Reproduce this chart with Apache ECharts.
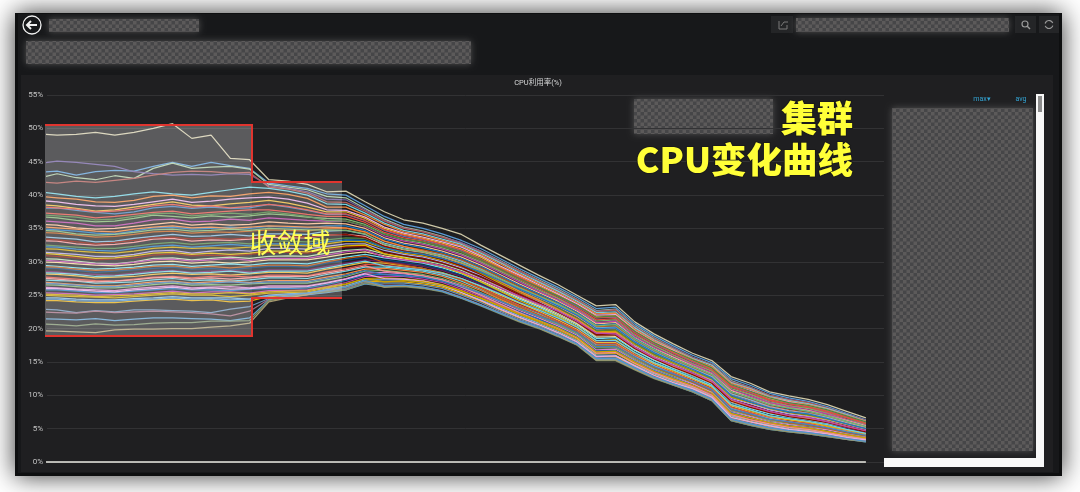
<!DOCTYPE html>
<html><head><meta charset="utf-8">
<script src="https://cdn.jsdelivr.net/npm/echarts@6/dist/echarts.min.js"></script>
<style>html,body{margin:0;background:#fff}#c{width:1080px;height:492px;filter:blur(0.4px)}</style></head>
<body><div id="c"></div>
<script>
const yTicks=[0,5,10,15,20,25,30,35,40,45,50,55];
const times=[-1,0,1,2,3,4,5,6,7,8,9,10,11,12,13,14,15,16,17,18,19,20,21,22,23,24,25,26,27,28,29,30,31,32,33,34,35,36,37,38,39,40,41,42];
const zeroLine=[0,0,0,0,0,0,0,0,0,0,0,0,0,0,0,0,0,0,0,0,0,0,0,0,0,0,0,0,0,0,0,0,0,0,0,0,0,0,0,0,0,0,0,0];
// values in tenths of a percent
const s01=[492,490,491,494,490,494,500,507,485,490,455,453,423,421,416,405,406,390,375,363,358,350,341,325,310,295,280,266,250,234,236,210,192,177,163,152,128,118,105,99,94,86,76,66];
const s02=[434,436,430,435,437,436,443,449,443,449,444,440,418,414,410,402,400,384,368,356,350,342,332,320,305,290,276,262,247,230,232,207,189,174,160,149,125,115,103,96,91,83,73,63];
const s03=[425,432,426,423,429,425,440,448,440,442,443,439,416,412,408,398,396,380,364,352,346,338,328,316,302,287,273,259,244,227,229,204,186,171,157,146,122,112,100,93,88,80,71,61];
const s04=[447,451,449,446,443,435,432,430,431,430,432,431,414,410,405,394,393,378,362,351,345,337,329,316,301,286,272,258,243,226,228,203,185,171,157,146,121,112,100,94,89,81,72,62];
const s05=[420,418,421,419,422,425,430,434,436,435,433,434,412,409,403,390,389,376,361,350,345,337,327,315,300,287,272,257,243,225,228,202,185,170,156,146,120,111,100,93,89,81,71,62];
const s06=[405,402,398,396,398,402,405,402,400,404,408,412,410,406,400,387,386,373,358,347,342,334,326,313,299,284,270,256,241,224,225,201,183,169,155,145,119,110,98,92,87,80,71,61];
const s07=[398,396,394,390,389,392,398,400,396,399,398,402,404,401,395,382,382,370,356,345,340,332,324,311,297,282,268,254,239,222,223,199,182,168,154,143,118,109,97,91,86,79,70,61];
const s08=[392,390,386,384,383,386,390,394,389,391,394,396,397,394,388,378,377,367,352,343,337,330,322,309,294,280,266,252,237,220,221,197,180,167,152,141,116,107,96,90,85,78,69,60];
const s09=[386,384,380,376,378,382,386,390,385,384,387,389,392,388,382,375,375,365,350,341,335,328,319,307,292,278,264,250,235,218,219,196,179,165,151,140,115,105,95,88,84,76,68,59];
const s10=[380,381,377,374,372,375,381,383,380,382,380,381,386,382,377,371,371,362,347,338,333,325,317,304,290,276,262,248,233,216,217,194,177,163,150,138,113,104,93,87,82,75,67,58];
const s11=[374,372,370,366,368,371,374,376,372,374,376,378,378,375,371,368,368,359,344,336,331,323,315,302,288,274,260,246,231,213,215,192,175,161,148,137,112,102,92,85,81,74,66,57];
const s12=[368,366,362,360,361,365,370,368,366,369,367,369,372,370,367,365,364,356,342,333,328,321,312,300,286,272,258,245,229,211,213,190,174,160,147,136,110,101,90,84,80,73,64,56];
const s13=[362,360,358,354,354,358,363,364,360,361,364,362,366,364,362,361,361,353,339,331,326,319,310,298,284,270,256,243,228,209,211,188,172,158,146,134,108,99,89,83,78,72,63,55];
const s14=[356,355,351,349,350,353,356,359,355,357,355,356,360,358,357,358,357,350,336,328,323,316,307,295,281,267,254,241,226,207,209,186,170,157,144,132,107,97,87,81,77,70,62,54];
const s15=[350,348,346,343,342,346,351,352,349,350,352,350,353,352,351,354,354,347,334,326,321,314,305,293,279,265,252,239,224,205,207,185,169,155,143,131,105,96,86,80,76,69,61,53];
const s16=[344,343,340,337,338,341,345,346,343,345,344,346,348,347,346,350,350,344,331,323,318,312,303,291,277,263,250,237,222,203,204,183,167,154,141,129,103,94,84,78,74,68,60,52];
const s17=[338,336,334,330,331,335,338,341,338,339,341,339,342,342,341,346,347,341,328,321,316,310,301,289,275,261,248,235,220,201,202,181,165,152,140,128,102,93,83,77,73,67,59,52];
const s18=[332,331,327,325,326,329,334,335,331,333,332,334,337,336,336,340,341,338,325,318,314,307,298,286,272,259,246,233,218,199,200,179,163,150,138,126,100,91,82,76,72,65,58,51];
const s19=[326,324,322,320,320,323,327,329,326,328,329,327,331,331,330,333,336,335,322,316,312,305,296,284,270,257,244,231,216,197,198,178,162,149,137,125,98,90,80,75,71,64,57,50];
const s20=[320,319,316,314,313,316,320,322,320,321,320,322,325,325,324,327,331,330,320,313,309,302,293,282,268,254,242,229,214,195,196,176,160,148,136,123,97,88,79,73,69,63,56,49];
const s21=[315,313,311,308,308,311,316,317,313,316,318,316,320,320,319,323,327,327,317,311,307,300,291,280,266,252,240,227,212,193,194,174,158,146,134,122,95,87,78,72,68,62,55,48];
const s22=[310,308,306,303,304,306,310,312,309,310,309,311,314,314,313,317,322,323,314,309,305,298,289,277,264,250,238,225,211,191,192,172,156,144,133,120,93,85,76,70,66,61,54,47];
const s23=[305,304,301,298,297,300,305,306,303,305,307,305,308,309,308,313,317,319,312,307,302,296,287,275,262,248,236,223,209,189,190,170,155,143,131,119,92,83,75,69,65,60,53,46];
const s24=[300,299,297,295,294,296,300,301,298,300,298,300,303,303,303,307,312,315,309,304,300,293,284,272,259,246,234,221,207,187,188,168,153,141,130,117,90,81,73,68,64,58,52,45];
const s25=[295,293,291,289,290,292,295,296,293,295,297,295,298,298,297,302,307,311,306,302,298,291,282,270,257,244,232,219,205,185,186,167,152,140,128,116,88,80,72,67,63,57,51,44];
const s26=[291,290,287,284,286,288,290,292,289,290,288,291,293,293,292,298,302,307,303,299,295,289,280,268,255,242,230,217,203,183,184,165,150,138,127,114,87,78,70,65,61,56,50,44];
const s27=[286,285,282,281,280,283,286,287,284,286,287,285,288,288,288,293,298,303,300,297,293,287,278,266,253,240,228,215,201,181,181,163,148,137,125,113,85,77,69,64,60,55,49,43];
const s28=[282,281,279,276,277,278,281,283,281,282,280,282,284,284,283,289,294,299,298,294,290,284,275,263,250,238,226,213,199,179,179,161,147,135,124,112,84,75,67,63,59,53,48,42];
const s29=[278,276,274,272,271,274,277,278,276,278,279,277,280,280,279,285,290,296,295,292,288,282,273,261,248,235,224,211,197,177,177,160,145,134,122,110,82,74,66,61,58,52,47,41];
const s30=[273,272,271,268,269,270,273,275,272,273,271,273,276,276,275,281,286,292,292,289,286,280,271,259,246,233,222,209,195,175,175,158,144,132,121,108,80,72,65,60,56,51,46,40];
const s31=[270,268,266,264,264,267,270,271,268,270,271,269,272,272,272,277,282,289,290,287,284,278,268,257,244,231,220,207,194,173,173,156,142,131,120,107,78,71,63,59,55,50,45,39];
const s32=[266,265,263,261,261,263,266,268,265,266,265,267,268,268,268,273,278,286,287,284,281,275,266,254,242,229,218,206,192,171,171,154,140,129,118,105,77,69,62,57,54,49,43,38];
const s33=[262,261,259,258,257,260,262,264,261,262,263,261,264,264,264,269,275,283,284,282,279,273,264,252,240,227,216,204,190,168,169,152,138,127,117,104,75,68,60,56,52,48,42,37];
const s34=[258,258,256,254,254,256,258,260,258,258,257,259,260,260,261,266,272,280,281,280,277,271,262,250,237,225,214,202,188,166,167,151,137,126,115,102,74,66,59,54,51,46,41,36];
const s35=[254,253,252,250,251,252,254,256,253,255,255,253,257,257,258,263,269,278,278,278,274,269,259,248,235,223,212,200,186,164,165,149,135,124,114,101,72,64,58,53,50,45,40,35];
const s36=[250,249,248,247,246,248,250,252,250,250,248,250,253,254,255,261,266,275,276,275,272,266,257,245,233,221,210,198,184,162,163,147,133,122,112,99,70,63,56,52,48,44,39,34];
const s37=[246,246,244,243,243,245,246,248,246,246,246,244,250,252,253,258,264,273,273,273,269,264,254,243,231,219,208,196,182,160,160,145,132,121,111,98,69,61,55,50,47,43,38,34];
const s38=[242,242,240,239,239,241,243,244,242,243,240,241,248,250,252,257,262,271,270,270,267,262,252,241,228,216,206,194,180,158,158,143,130,119,110,96,67,60,53,49,46,42,37,33];
const s39=[229,228,224,227,225,228,228,227,226,224,229,233,245,249,252,256,260,269,268,268,265,260,250,239,226,214,204,192,179,156,156,142,128,118,108,95,65,58,52,48,45,40,36,32];
const s40=[225,224,223,226,224,225,226,225,224,222,219,226,244,248,251,255,259,268,265,265,262,257,247,236,224,212,202,190,177,154,154,140,127,116,106,93,63,56,50,46,43,39,35,31];
const s41=[215,214,213,215,212,214,216,216,215,214,212,216,243,248,251,254,258,267,263,264,261,256,246,235,223,211,201,189,176,153,153,139,126,115,105,92,62,55,49,45,42,38,34,30];
const s42=[207,206,204,207,205,206,208,209,209,211,211,212,242,247,252,255,258,268,262,263,260,255,245,234,222,210,200,188,175,152,152,138,125,115,105,92,62,55,49,45,42,38,34,30];
const s43=[197,196,195,194,198,199,199,200,200,202,204,208,240,246,251,260,263,271,262,264,261,256,246,235,223,211,201,189,176,153,153,139,126,116,106,93,63,56,50,46,43,39,34,31];
const s44=[383,381,379,375,376,379,384,386,382,384,381,383,386,383,378,372,372,362,348,340,334,326,318,304,291,277,263,249,235,216,218,195,178,164,151,139,114,105,93,87,83,76,68,58];
const s45=[371,369,367,363,364,368,372,373,369,371,373,371,375,372,368,362,361,354,341,334,330,323,315,303,289,275,262,249,235,217,219,196,179,166,153,141,116,106,96,89,85,78,69,60];
const s46=[353,351,349,346,345,349,352,354,351,352,350,352,354,353,352,352,351,345,331,323,316,308,298,286,271,256,243,229,214,194,194,172,157,144,132,120,92,83,75,69,66,60,53,46];
const s47=[347,346,342,340,341,344,348,349,346,347,349,347,350,349,348,348,347,342,326,319,315,308,299,288,274,261,249,237,222,204,206,184,168,155,143,131,105,96,86,81,76,69,61,53];
const s48=[335,333,330,327,329,332,336,337,334,336,334,336,339,338,337,340,341,336,323,316,311,304,294,281,266,252,239,225,210,190,190,170,155,142,131,118,91,82,74,68,64,59,52,45];
const s49=[323,322,319,317,316,320,323,325,322,324,326,324,327,327,326,330,333,332,321,315,311,305,296,285,272,259,247,234,220,200,201,180,164,151,139,126,100,90,81,75,72,65,57,50];
const s50=[313,311,308,305,306,309,313,314,311,313,311,313,316,316,315,320,324,325,312,306,300,293,283,270,256,242,230,218,203,182,183,164,149,137,126,113,86,77,69,64,60,54,48,42];
const s51=[303,301,299,297,296,299,303,304,301,303,305,302,305,305,305,310,315,318,307,303,299,294,285,274,261,249,237,226,211,193,192,172,156,145,133,121,94,84,76,70,67,60,53,47];
const s52=[293,292,289,287,288,290,293,294,291,293,291,293,295,295,294,300,305,309,299,295,290,283,273,260,246,233,221,209,195,174,174,157,142,131,120,107,79,71,64,59,55,50,44,39];
const s53=[284,283,281,278,279,281,284,286,283,284,286,283,286,286,286,291,296,301,294,291,288,283,275,264,252,239,228,216,202,182,182,164,149,138,126,114,86,78,69,65,61,56,49,43];
const s54=[276,274,272,270,271,273,276,277,274,276,274,276,278,278,278,283,288,294,286,283,279,273,262,250,237,224,212,200,186,163,164,148,134,123,113,100,71,63,57,52,49,44,39,35];
const s55=[268,267,265,263,263,265,268,270,267,268,270,268,270,270,270,275,280,287,281,279,277,271,263,253,241,230,219,208,194,173,173,157,143,132,121,108,79,72,64,60,56,51,45,40];
const s56=[260,260,258,256,255,258,260,262,259,261,259,260,262,262,263,268,274,282,275,274,271,265,254,242,229,217,206,194,180,158,159,144,130,119,110,97,67,60,54,49,46,42,37,33];
const s57=[252,251,250,248,249,250,252,254,252,252,254,252,255,256,257,262,267,275,270,272,270,265,256,246,234,222,212,201,187,165,166,150,136,125,115,103,73,66,59,54,51,46,41,36];
const s58=[244,244,242,241,241,243,244,246,244,245,243,244,249,251,253,258,262,272,264,265,262,256,246,235,223,212,202,190,177,155,155,141,127,117,107,94,64,57,51,47,44,40,35,31];
const allSeries=[s01,s02,s03,s04,s05,s06,s07,s08,s09,s10,s11,s12,s13,s14,s15,s16,s17,s18,s19,s20,s21,s22,s23,s24,s25,s26,s27,s28,s29,s30,s31,s32,s33,s34,s35,s36,s37,s38,s39,s40,s41,s42,s43,s44,s45,s46,s47,s48,s49,s50,s51,s52,s53,s54,s55,s56,s57,s58];
const colors=['#cfc9a8','#5a9bd5','#a8c8a0','#705DA0','#b05a55','#6ED0E0','#EF843C','#E5A8E2','#EAB839','#447EBC','#E24D42','#7EB26D','#BA43A9','#F9BA8F','#1F78C1','#C15C17','#82B5D8','#F29191','#508642','#CCA300','#AEA2E0','#890F02','#B7DBAB','#F4D598','#70DBED','#0A437C','#6D1F62','#EAB839','#E24D42','#6ED0E0','#EF843C','#7EB26D','#D683CE','#1F78C1','#BA43A9','#CCA300','#82B5D8','#E5AC0E','#6a8fb5','#a06a80','#5f9fd0','#7a8f6a','#a89a6e','#E24D42','#508642','#EF843C','#7EB26D','#890F02','#1F78C1','#E0B400','#BA43A9','#C15C17','#6ED0E0','#F29191','#447EBC','#E5A8E2','#CCA300','#5195CE'];

const pc=document.createElement('canvas');pc.width=7;pc.height=7;
const g=pc.getContext('2d');g.fillStyle='#464648';g.fillRect(0,0,7,7);g.fillStyle='#5c5a5a';g.fillRect(0,0,3.5,3.5);g.fillRect(3.5,3.5,3.5,3.5);
function blurBox(x,y,w,h){return {type:'rect',z:-1,shape:{x:x+1,y:y+1,width:w-2,height:h-2},style:{fill:{image:pc,repeat:'repeat'},shadowBlur:7,shadowColor:'#505050'}};}
function box(x,y,w,h,fill,z){return {type:'rect',z:z===undefined?-2:z,shape:{x,y,width:w,height:h},style:{fill}};}
function pline(pts,stroke,lw,z){return {type:'polyline',z:z===undefined?60:z,shape:{points:pts},style:{stroke,lineWidth:lw,fill:null}};}
const chrome=[
 {type:'rect',z:-5,shape:{x:15,y:13,width:1047,height:463},style:{fill:'#0e0f10',shadowBlur:24,shadowColor:'rgba(0,0,0,.8)'}},
 box(18,14,1041,459,'#17181a',-4),
 box(21,75,1032,397,'#1f1f21',-3),
 box(771,16,22,17,'#242527'),box(1015,16,21,17,'#242527'),box(1039,16,20,17,'#242527'),
 blurBox(48,18,152,15),blurBox(25,40,447,25),blurBox(795,17,215,16),blurBox(633,98,141,37),blurBox(891,107,143,345),
 box(1036,94,8,373,'#f8f8f8',-1),box(884,458,160,9,'#f8f8f8',-1),box(1038,96,4,16,'#8c8c8c',-1),
 {type:'circle',z:5,shape:{cx:32,cy:25,r:9},style:{stroke:'#f0f0f0',lineWidth:1.3,fill:null}},
 pline([[27,25],[37,25]],'#f0f0f0',2),pline([[31,21],[27,25],[31,29]],'#f0f0f0',2),
 {type:'circle',z:5,shape:{cx:1025,cy:24,r:3},style:{stroke:'#9a9a9a',lineWidth:1.2,fill:null}},
 pline([[1027,26],[1030,29]],'#9a9a9a',1.4),
 {type:'arc',z:5,shape:{cx:1049,cy:24.5,r:4,startAngle:0.3,endAngle:2.8},style:{stroke:'#9a9a9a',lineWidth:1.2,fill:null}},
 {type:'arc',z:5,shape:{cx:1049,cy:24.5,r:4,startAngle:3.4,endAngle:5.9},style:{stroke:'#9a9a9a',lineWidth:1.2,fill:null}},
 pline([[779,21],[779,29],[787,29],[787,25]],'#7a7a7a',1),pline([[781,26],[784,22],[788,22]],'#7a7a7a',1),
 {type:'text',z:5,style:{x:982,y:99,text:'max▾',fill:'#33a5d5',font:'7px Roboto',textAlign:'center',textVerticalAlign:'middle'}},
 {type:'text',z:5,style:{x:1021,y:99,text:'avg',fill:'#33a5d5',font:'7px Roboto',textAlign:'center',textVerticalAlign:'middle'}},
 // annotation overlay
 box(45,125,207,211,'rgba(255,255,255,.27)',50),
 box(252,182,90,116,'rgba(255,255,255,.22)',50),
 pline([[45,125],[252,125],[252,182],[342,182]],'#e0352f',2),
 pline([[45,336],[252,336],[252,298],[342,298]],'#e0352f',2),
 {type:'text',z:70,style:{x:853,y:118,text:'集群',fill:'#ffff38',stroke:'#1a1a1a',lineWidth:2,font:'900 36px "Noto Sans CJK SC"',textAlign:'right',textVerticalAlign:'middle'}},
 {type:'text',z:70,style:{x:853,y:160,text:'CPU变化曲线',fill:'#ffff38',stroke:'#1a1a1a',lineWidth:2,font:'900 35.5px "Noto Sans CJK SC"',textAlign:'right',textVerticalAlign:'middle'}},
 {type:'text',z:70,style:{x:290,y:243,text:'收敛域',fill:'#ffff55',font:'27px "Noto Sans CJK SC"',textAlign:'center',textVerticalAlign:'middle'}}
];
const lineSeries=allSeries.map((vals,i)=>({type:'line',name:'s'+(i+1),data:vals.map((v,j)=>[times[j],v/10]),showSymbol:false,symbol:'none',lineStyle:{width:1.25,color:colors[i%colors.length]},itemStyle:{color:colors[i%colors.length]},clip:true,silent:true}));
lineSeries.push({type:'line',name:'zero',data:zeroLine.map((v,j)=>[times[j],v]),showSymbol:false,symbol:'none',lineStyle:{width:1.6,color:'#ecece4'},clip:false,silent:true});
const chart=echarts.init(document.getElementById('c'),null,{renderer:'canvas'});
chart.setOption({
 animation:false,backgroundColor:'#ffffff',
 title:{text:'CPU利用率(%)',left:533,textAlign:'center',top:74,textStyle:{color:'#d8d9da',fontSize:7.5,fontWeight:'normal',fontFamily:'Roboto,"Noto Sans CJK SC"'}},
 grid:{left:47,top:95,width:837,height:367},
 xAxis:{type:'value',min:-0.52,max:42.94,show:false},
 yAxis:{type:'value',min:yTicks[0],max:yTicks[yTicks.length-1],interval:5,axisLine:{show:false},axisTick:{show:false},
  axisLabel:{formatter:'{value}%',color:'#c4c4c4',fontSize:8,margin:4,fontFamily:'Roboto'},splitLine:{lineStyle:{color:'#323234',width:1}}},
 series:lineSeries,graphic:{elements:chrome}
});
</script></body></html>
